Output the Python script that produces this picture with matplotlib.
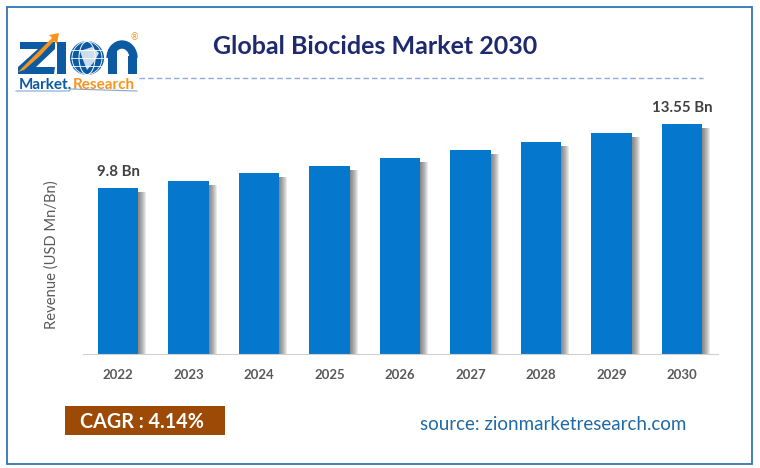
import matplotlib
matplotlib.use('Agg')
import matplotlib.pyplot as plt
import numpy as np
from matplotlib.patches import Rectangle, Circle, Ellipse, Polygon, Arc

plt.rcParams['font.family'] = ['Lato', 'DejaVu Sans']

years = ['2022', '2023', '2024', '2025', '2026', '2027', '2028', '2029', '2030']
revenue = [9.8, 10.2, 10.67, 11.08, 11.55, 12.02, 12.49, 13.02, 13.55]
value_labels = {0: '9.8 Bn', 8: '13.55 Bn'}

W, H = 760, 468
fig = plt.figure(figsize=(W / 100, H / 100), dpi=100)

# overlay in pixel coords, for frame, logo and captions
bg = fig.add_axes([0, 0, 1, 1])
bg.set_xlim(0, W)
bg.set_ylim(H, 0)
bg.axis('off')
bg.add_patch(Rectangle((6.5, 6.5), 745.5, 457.5, fill=False, ec='#2e75b6', lw=1.3))

# chart axes: x 83-718 px, baseline at y=354
ax = fig.add_axes([83 / W, 1 - 354 / H, 635 / W, 240 / H])
ax.patch.set_alpha(0)
x = np.arange(len(years))
ax.set_xlim(-0.496, 8.51)
ax.set_ylim(0, 240 / 16.97)

# soft shadow, stacked strips that fade out to the right of each bar
for i in range(1, 9):
    ax.bar(x + 0.29, np.array(revenue) - 0.25, width=0.0135 * i, align='edge',
           color='#444444', alpha=0.11, lw=0, zorder=1)
ax.bar(x, revenue, width=0.58, color='#0577cc', lw=0, zorder=2)

for i, txt in value_labels.items():
    ax.text(x[i] + 0.01, revenue[i] + 0.52, txt, ha='center', va='bottom',
            fontsize=10.8, fontweight='bold', color='#404040')

for s in ['top', 'right', 'left']:
    ax.spines[s].set_visible(False)
ax.spines['bottom'].set_color('#d0d0d0')
ax.set_yticks([])
ax.set_xticks(x)
ax.set_xticklabels(years, fontsize=9.5, fontweight='bold', color='#595959')
ax.tick_params(axis='x', length=0, pad=11)

bg.text(52, 255, 'Revenue (USD Mn/Bn)', rotation=90, ha='center', va='center',
        fontsize=10.6, color='#595959')
bg.text(375, 46, 'Global Biocides Market 2030', ha='center', va='center',
        fontsize=18, fontweight='bold', color='#1f2a6e')

# dashed rule below the title
bg.plot([139, 703], [78, 78], color='#8faadc', lw=1, dashes=(4, 2.2))

# logo
logo_blue = '#0b5aa2'
bg.add_patch(Polygon([[20, 42], [55, 42], [55, 49], [36, 67], [55, 67], [54, 74], [18, 74],
                      [18, 67], [38, 49], [20, 49]], color=logo_blue, lw=0))
bg.add_patch(Polygon([[18, 72], [38, 52], [52, 38], [49, 35], [59, 33], [57, 44], [54, 41],
                      [40, 56], [24, 70]], color='#f7941d', lw=0, zorder=3))
bg.add_patch(Rectangle((57, 42), 8.5, 32, color=logo_blue, lw=0))
bg.add_patch(Circle((87, 58), 17, color=logo_blue, lw=0))
bg.add_patch(Ellipse((87, 58), 16, 33, fill=False, ec='white', lw=0.7))
bg.add_patch(Ellipse((87, 58), 30, 33, fill=False, ec='white', lw=0.6))
bg.plot([71, 103], [50, 50], color='white', lw=0.6)
bg.plot([71, 103], [58, 58], color='white', lw=0.6)
bg.plot([72, 102], [66, 66], color='white', lw=0.6)
bg.add_patch(Polygon([[80, 51], [92, 47], [99, 53], [94, 62], [87, 70], [83, 60]],
                     color='white', alpha=0.8, lw=0, zorder=3))
bg.add_patch(Rectangle((107.5, 49), 9, 25, color=logo_blue, lw=0))
bg.add_patch(Rectangle((128, 56), 9, 18, color=logo_blue, lw=0))
bg.add_patch(Arc((122, 58), 23, 27, theta1=180, theta2=360, ec=logo_blue, lw=6))
bg.text(134, 38, '®', fontsize=6.5, color='#f7941d', ha='center', va='center')
bg.text(18.5, 89, 'Market.', fontsize=11, fontweight='bold', color=logo_blue, ha='left', va='baseline')
bg.text(72.5, 89, 'Research', fontsize=11, fontweight='bold', color='#f7941d', ha='left', va='baseline')
bg.plot([16, 69, 71, 137], [91, 91, 89, 91], color='#7fa6d6', lw=0.8)

# bottom captions
bg.add_patch(Rectangle((65, 406), 160, 29, color='#9c4a06', lw=0))
bg.text(80, 422, 'CAGR : 4.14%', ha='left', va='center', fontsize=14.2, fontweight='bold', color='white')
bg.text(553, 424, 'source: zionmarketresearch.com', ha='center', va='center',
        fontsize=13.5, color='#1f6aa5')

fig.savefig('out.png', dpi=100)
